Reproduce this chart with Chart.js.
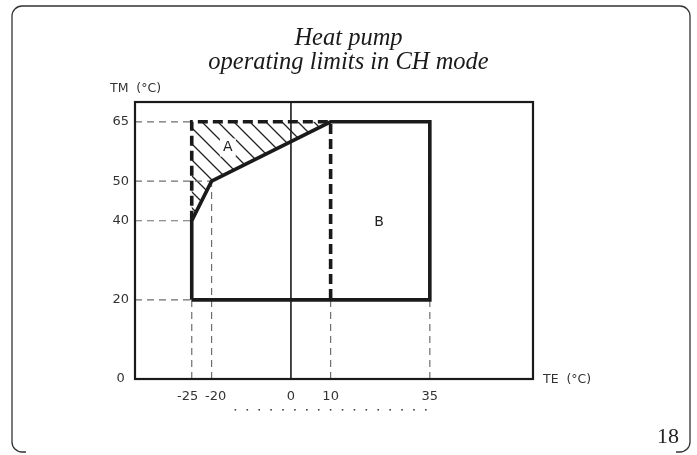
<!DOCTYPE html>
<html>
<head>
<meta charset="utf-8">
<script src="https://cdn.jsdelivr.net/npm/chart.js@4.4.1/dist/chart.umd.min.js"></script>
<style>
  html, body { margin: 0; padding: 0; background: #fff; }
  #wrap { width: 697px; height: 455px; }
</style>
</head>
<body>
<div id="wrap"><canvas id="c" width="697" height="455"></canvas></div>
<script>
// ---- data ----
const titleLines = ['Heat pump', 'operating limits in CH mode'];
const xTicks = [-25, -20, 0, 10, 35];
const xTickLabels = ['-25  ', '  -20', '0', '10', '35'];
const yTicks = [0, 20, 40, 50, 65];
const yTickLabels = ['0 ', '20', '40', '50', '65'];
const xRange = [-39.3, 61];
const yRange = [0, 70];
const xTitle = 'TE  (°C)';
const yTitle = 'TM  (°C)';
const pageNumber = '18';

// Region B (solid operating envelope)
const regionBX = [-25, -25, -20, 10, 35, 35, -25];
const regionBY = [20, 40, 50, 65, 65, 20, 20];
// Region A (hatched area)
const regionAX = [-25, -25, 10, -20, -25];
const regionAY = [40, 65, 65, 50, 40];
// Thick dashed limit of region A
const limitAX = [-25, -25, 10, 10];
const limitAY = [40, 65, 65, 20];
// Zero line (TE = 0)
const zeroX = [0, 0];
const zeroY = [0, 70];
// Thin reference dashed lines: [x1, y1, x2, y2]
const refLines = [
  [-39.3, 65, -25, 65],
  [-39.3, 50, -20, 50],
  [-39.3, 40, -25, 40],
  [-39.3, 20, -25, 20],
  [-25, 0, -25, 20],
  [-20, 0, -20, 50],
  [10, 0, 10, 20],
  [35, 0, 35, 20]
];
// Region labels
const regionLabels = ['A', 'B'];
const regionLabelX = [-15.9, 22.2];
const regionLabelY = [58.5, 39.5];
// decorative dotted row under the axis (in TE units)
const dotRowX = [-14, -11, -8, -5, -2, 1, 4, 7, 10, 13, 16, 19, 22, 25, 28, 31, 34];

// ---- helpers ----
function pts(xs, ys) { return xs.map((x, i) => ({ x: x, y: ys[i] })); }

function hatchPattern() {
  const c = document.createElement('canvas');
  c.width = 16; c.height = 16;
  const g = c.getContext('2d');
  g.strokeStyle = '#222';
  g.lineWidth = 1.3;
  g.beginPath();
  g.moveTo(-2, -2); g.lineTo(18, 18);
  g.moveTo(-2, 14); g.lineTo(2, 18);
  g.moveTo(14, -2); g.lineTo(18, 2);
  g.stroke();
  return g.createPattern(c, 'repeat');
}

const ctx = document.getElementById('c').getContext('2d');
const tickFont = '"DejaVu Sans", "Liberation Sans", sans-serif';

const datasets = [
  {
    label: 'A', data: pts(regionAX, regionAY), showLine: true, fill: 'shape',
    backgroundColor: hatchPattern(), borderWidth: 0, borderColor: 'rgba(0,0,0,0)',
    pointRadius: 0, order: 10
  },
  ...refLines.map((s, i) => ({
    label: 'ref' + i, data: [{ x: s[0], y: s[1] }, { x: s[2], y: s[3] }], showLine: true,
    borderColor: '#6e6e6e', borderWidth: 1.2, borderDash: [7, 5], pointRadius: 0, fill: false, order: 9
  })),
  {
    label: 'zero', data: pts(zeroX, zeroY), showLine: true, borderColor: '#1a1a1a',
    borderWidth: 1.6, pointRadius: 0, fill: false, order: 8
  },
  {
    label: 'limitA', data: pts(limitAX, limitAY), showLine: true, borderColor: '#1a1a1a',
    borderWidth: 3.6, borderDash: [10, 5], pointRadius: 0, fill: false, order: 2,
    borderJoinStyle: 'miter'
  },
  {
    label: 'B', data: pts(regionBX, regionBY), showLine: true, borderColor: '#1a1a1a',
    borderWidth: 3.6, pointRadius: 0, fill: false, order: 1, borderJoinStyle: 'miter'
  }
];

const decor = {
  id: 'decor',
  beforeDraw(chart) {
    const g = chart.ctx;
    g.save();
    g.fillStyle = '#fff';
    g.fillRect(0, 0, chart.width, chart.height);
    // outer rounded frame (bottom edge open)
    g.strokeStyle = '#333';
    g.lineWidth = 1.3;
    const L = 12, T = 6, R = 690, B = 452, r = 10;
    g.beginPath();
    g.moveTo(L + r + 4, B);
    g.lineTo(L + r, B);
    g.arcTo(L, B, L, B - r, r);
    g.lineTo(L, T + r);
    g.arcTo(L, T, L + r, T, r);
    g.lineTo(R - r, T);
    g.arcTo(R, T, R, T + r, r);
    g.lineTo(R, B - r);
    g.arcTo(R, B, R - r, B, r);
    g.lineTo(R - r - 4, B);
    g.stroke();
    g.restore();
  },
  afterDatasetsDraw(chart) {
    const g = chart.ctx;
    const a = chart.chartArea;
    const xs = chart.scales.x, ys = chart.scales.y;
    g.save();
    // plot frame
    g.strokeStyle = '#1a1a1a';
    g.lineWidth = 2.2;
    g.strokeRect(a.left, a.top, a.right - a.left, a.bottom - a.top);
    // region labels
    g.font = '14px ' + tickFont;
    g.textAlign = 'center';
    g.textBaseline = 'middle';
    regionLabels.forEach((t, i) => {
      const px = xs.getPixelForValue(regionLabelX[i]);
      const py = ys.getPixelForValue(regionLabelY[i]);
      if (i === 0) { g.fillStyle = '#fff'; g.fillRect(px - 8, py - 9, 16, 18); }
      g.fillStyle = '#222';
      g.fillText(t, px, py);
    });
    // axis titles
    g.font = '12.5px ' + tickFont;
    g.fillStyle = '#333';
    g.textAlign = 'left';
    g.fillText(yTitle, a.left - 25, a.top - 13);
    g.fillText(xTitle, a.right + 10, a.bottom + 1);
    // dotted row
    g.fillStyle = '#444';
    dotRowX.forEach(v => {
      const px = xs.getPixelForValue(v);
      g.fillRect(px - 0.8, a.bottom + 30, 1.6, 1.6);
    });
    // page number
    g.font = '22px "Liberation Serif", "Times New Roman", serif';
    g.fillStyle = '#222';
    g.textAlign = 'center';
    g.fillText(pageNumber, 668, 437);
    g.restore();
  }
};

new Chart(ctx, {
  type: 'scatter',
  data: { datasets: datasets },
  options: {
    responsive: false,
    devicePixelRatio: 1,
    animation: false,
    events: [],
    layout: { padding: { left: 12, right: 12, top: 0, bottom: 12 } },
    plugins: {
      legend: { display: false },
      tooltip: { enabled: false },
      title: {
        display: true,
        text: titleLines,
        color: '#1a1a1a',
        font: { family: '"Liberation Serif", "Times New Roman", serif', style: 'italic', size: 24.5, weight: 'normal', lineHeight: 0.98 },
        padding: { top: 27, bottom: 27 }
      }
    },
    scales: {
      x: {
        type: 'linear', position: 'bottom', min: xRange[0], max: xRange[1],
        afterBuildTicks: s => { s.ticks = xTicks.map(v => ({ value: v })); },
        afterFit: s => { s.height = 64; },
        grid: { display: false, drawTicks: false },
        border: { display: false },
        ticks: {
          padding: 10, color: '#333', maxRotation: 0, autoSkip: false,
          font: { family: tickFont, size: 13 },
          callback: (v, i) => xTickLabels[i]
        }
      },
      y: {
        type: 'linear', position: 'left', min: yRange[0], max: yRange[1],
        afterBuildTicks: s => { s.ticks = yTicks.map(v => ({ value: v })); },
        afterFit: s => { s.width = 123; },
        grid: { display: false, drawTicks: false },
        border: { display: false },
        ticks: {
          padding: 6, color: '#333', autoSkip: false,
          font: { family: tickFont, size: 13 },
          callback: (v, i) => yTickLabels[i]
        }
      },
      yR: {
        type: 'linear', position: 'right', display: true,
        afterFit: s => { s.width = 152; },
        grid: { display: false, drawTicks: false },
        border: { display: false },
        ticks: { display: false }
      }
    }
  },
  plugins: [decor]
});
</script>
</body>
</html>
